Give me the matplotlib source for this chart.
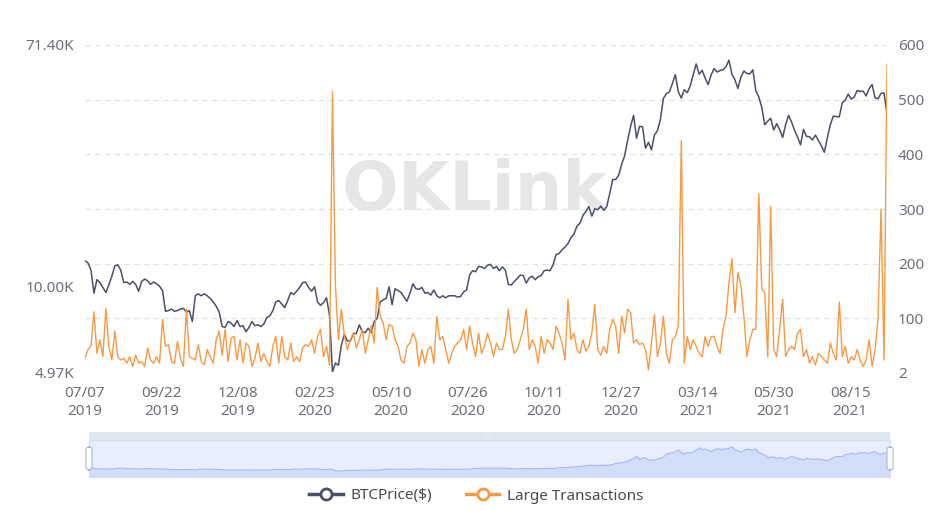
import matplotlib
matplotlib.use("Agg")
import matplotlib.pyplot as plt
import matplotlib.dates as mdates
from matplotlib.lines import Line2D
from matplotlib.patches import FancyBboxPatch
import pandas as pd

plt.rcParams.update({'font.family': ['Noto Sans', 'DejaVu Sans'], 'font.size': 11})

start_date = '2019-07-07'
step_days = 3

# BTC price ($), one value every 3 days
btc_price = [
    # 2019
    12300, 12100, 11400, 9450, 10550, 10300, 9900, 9500, 10100,
    10850, 11800, 11900, 11400, 10300, 10350, 10150, 10400, 10150, 9600,
    10400, 10600, 10450, 10150, 10350, 10200, 10000, 9650, 8150, 8200,
    8300, 8150, 8200, 8300, 8350, 8100, 8200, 7500, 9250, 9400,
    9250, 9400, 9250, 9050, 8800, 8500, 8100, 7200, 7150, 7500,
    7400, 7200, 7550, 7200, 7250, 6900, 7150, 7500, 7250, 7300, 7200,
    # 2020
    7350, 7750, 7850, 8200, 8800, 8900, 8650, 8400, 8900, 9500,
    9350, 9600, 9900, 10300, 10350, 9900, 9600, 9950, 8800, 8550,
    8750, 9100, 7900, 4970, 5350, 5250, 6200, 6750, 6400, 6400,
    6800, 6800, 7300, 6900, 6850, 7100, 6850, 7500, 7700, 8800,
    8950, 9050, 9950, 8600, 9800, 9650, 9500, 9150, 8850, 9450,
    10200, 9800, 9750, 9900, 9450, 9500, 9300, 9700, 9250, 9100,
    9250, 9100, 9250, 9250, 9250, 9150, 9200, 9550, 9700, 10950, 11350,
    11250, 11750, 11700, 11550, 11850, 11950, 11550, 11750, 11350, 11700,
    11400, 10150, 10100, 10400, 10650, 10950, 10900, 10250, 10700, 10850,
    10550, 10800, 10900, 11350, 11400, 11350, 11900, 12950, 13050, 13450,
    13750, 14150, 14850, 15300, 16300, 16700, 17800, 18400, 19150, 17700,
    18800, 18650, 19200, 18550, 19150, 21300, 23850, 23850, 24700, 27000, 28950,
    # 2021
    32800, 36800, 40250, 33400, 36800, 36650, 30800, 32300, 30400, 34300,
    35500, 38900, 46200, 47950, 48700, 52100, 56100, 48800, 46300,
    49600, 48400, 51200, 56000, 61200, 56300, 58100, 54500, 51700, 55900, 58900,
    57300, 58000, 58300, 59900, 63100, 56200, 53800, 50100, 55000, 57750,
    56600, 56400, 58300, 49150, 46800, 42900, 37300, 38400, 39300, 35700,
    37600, 35800, 33600, 37300, 40200, 38100, 35600, 33700, 31650, 35900,
    33900, 33800, 32900, 34250, 32800, 31400, 29800, 33600, 37300, 40000,
    39850, 39750, 44600, 45600, 47850, 45950, 46750, 49300, 48900, 49000, 47150,
    50000, 51750, 46400, 46050, 48150, 48300, 40700,
]

# Large transactions, same dates
large_tx = [
    27, 43, 49, 112, 36, 61, 30, 118, 49, 24,
    77, 30, 24, 27, 18, 30, 12, 33, 18, 21,
    12, 46, 24, 18, 30, 18, 98, 49, 52, 21,
    18, 58, 27, 12, 117, 30, 27, 24, 52, 21,
    15, 43, 30, 18, 61, 77, 33, 80, 21, 64,
    67, 24, 61, 18, 55, 49, 12, 27, 55, 21,
    36, 21, 12, 49, 67, 18, 67, 30, 24, 55,
    21, 30, 21, 46, 52, 49, 61, 36, 67, 80,
    30, 49, 15, 515, 160, 61, 117, 67, 43, 61,
    73, 46, 61, 80, 36, 61, 86, 55, 157, 104,
    92, 61, 89, 86, 61, 49, 24, 18, 49, 55,
    73, 61, 12, 43, 18, 43, 49, 18, 103, 61,
    67, 43, 18, 36, 49, 55, 61, 80, 43, 86,
    55, 30, 73, 36, 49, 73, 55, 30, 55, 43,
    43, 67, 117, 61, 36, 43, 61, 80, 117, 43,
    61, 49, 18, 67, 36, 61, 55, 43, 86, 73,
    55, 24, 135, 61, 73, 43, 36, 61, 40, 49,
    73, 126, 43, 33, 49, 36, 80, 98, 86, 36,
    104, 73, 117, 110, 55, 61, 52, 55, 43, 6,
    55, 107, 30, 55, 104, 36, 18, 61, 67, 86,
    425, 18, 67, 43, 61, 49, 36, 30, 67, 49,
    67, 67, 49, 36, 80, 104, 166, 209, 110, 184,
    160, 104, 30, 61, 80, 80, 328, 154, 147, 30,
    305, 43, 30, 80, 135, 30, 43, 49, 43, 73,
    80, 30, 43, 18, 30, 15, 36, 30, 24, 18,
    55, 36, 24, 130, 30, 49, 18, 30, 24, 43,
    24, 12, 24, 61, 12, 43, 100, 300, 24, 565,
]

left_ticks = [4970, 10000, 71400]
left_labels = ['4.97K', '10.00K', '71.40K']
right_ticks = [2, 100, 200, 300, 400, 500, 600]
label_step_days = 77
n_date_labels = 11

dates = pd.date_range(start_date, periods=len(btc_price), freq=f'{step_days}D')
tx_dates = pd.date_range(start_date, periods=len(large_tx), freq=f'{step_days}D')
date_ticks = pd.date_range(start_date, periods=n_date_labels, freq=f'{label_step_days}D')

BTC_COLOR = '#4a5068'
TX_COLOR = '#f89a45'
LABEL_COLOR = '#6e7079'
GRID_COLOR = '#dfe3ec'

W, H = 953, 517
fig = plt.figure(figsize=(W / 100, H / 100), dpi=100)
ax1 = fig.add_axes([85 / W, 1 - 372 / H, 802 / W, 327 / H])
ax2 = ax1.twinx()

# grid lines follow the right axis ticks
for t in right_ticks:
    f = (t - right_ticks[0]) / (right_ticks[-1] - right_ticks[0])
    ax1.plot([0, 1], [f, f], transform=ax1.transAxes, color=GRID_COLOR,
             lw=1, ls=(0, (4, 3)), zorder=0)

ax1.text(0.485, 0.555, 'OKLink', transform=ax1.transAxes, ha='center', va='center',
         fontsize=48, fontweight='bold', color='#e6e6e6', zorder=0,
         family=['DejaVu Sans'])

ax1.plot(dates, btc_price, color=BTC_COLOR, lw=1.1, zorder=3)
ax1.set_yscale('log')
ax1.set_ylim(left_ticks[0], left_ticks[-1])
ax1.set_yticks(left_ticks)
ax1.set_yticklabels(left_labels)
ax1.yaxis.set_minor_locator(plt.NullLocator())

ax2.plot(tx_dates, large_tx, color=TX_COLOR, lw=1.0, zorder=4)
ax2.set_ylim(right_ticks[0], right_ticks[-1])
ax2.set_yticks(right_ticks)

ax1.set_xlim(dates[0], dates[-1])
ax1.set_xticks(date_ticks)
ax1.xaxis.set_major_formatter(mdates.DateFormatter('%m/%d\n%Y'))

for a in (ax1, ax2):
    for s in a.spines.values():
        s.set_visible(False)
    a.tick_params(length=0, colors=LABEL_COLOR, labelsize=11)
ax1.tick_params(axis='x', pad=10)
ax1.tick_params(axis='y', pad=8)
ax2.tick_params(axis='y', pad=8)
for lab in ax1.get_xticklabels():
    lab.set_linespacing(1.25)

# data zoom slider at the bottom
sl = fig.add_axes([89 / W, 1 - 477 / H, 801 / W, 37 / H])
sl.set_facecolor('#e8eefc')
sl.fill_between(dates, btc_price, -9500, color='#d2ddf9', lw=0)
sl.plot(dates, btc_price, color='#a3b8f0', lw=0.8)
sl.set_xlim(dates[0], dates[-1])
sl.set_ylim(-9500, 80000)
sl.set_xticks([])
sl.set_yticks([])
for s in sl.spines.values():
    s.set_color('#d5ddef')
    s.set_linewidth(0.8)

bar = fig.add_axes([89 / W, 1 - 440 / H, 801 / W, 8 / H])
bar.set_facecolor('#dfe5f1')
bar.set_xticks([])
bar.set_yticks([])
for s in bar.spines.values():
    s.set_visible(False)
bar.text(0.5, 0.5, '|||', transform=bar.transAxes, ha='center', va='center',
         fontsize=4, color='white')

for hx in (86, 887):
    fig.patches.append(FancyBboxPatch((hx / W, 1 - 470 / H), 6 / W, 23 / H,
                                      boxstyle='round,pad=0,rounding_size=0.004',
                                      transform=fig.transFigure, facecolor='white',
                                      edgecolor='#acb8d1', lw=0.8))

handles = [
    Line2D([], [], color=BTC_COLOR, lw=2.5, marker='o', ms=8, mfc='white', mew=2),
    Line2D([], [], color=TX_COLOR, lw=2.5, marker='o', ms=8, mfc='white', mew=2),
]
fig.legend(handles, ['BTCPrice($)', 'Large Transactions'], loc='center',
           bbox_to_anchor=(0.5, 1 - 496 / H), ncol=2, frameon=False,
           handlelength=2.2, columnspacing=2.2, handletextpad=0.5,
           fontsize=11, labelcolor='#4a4a4a')

fig.savefig('out.png', dpi=100)
